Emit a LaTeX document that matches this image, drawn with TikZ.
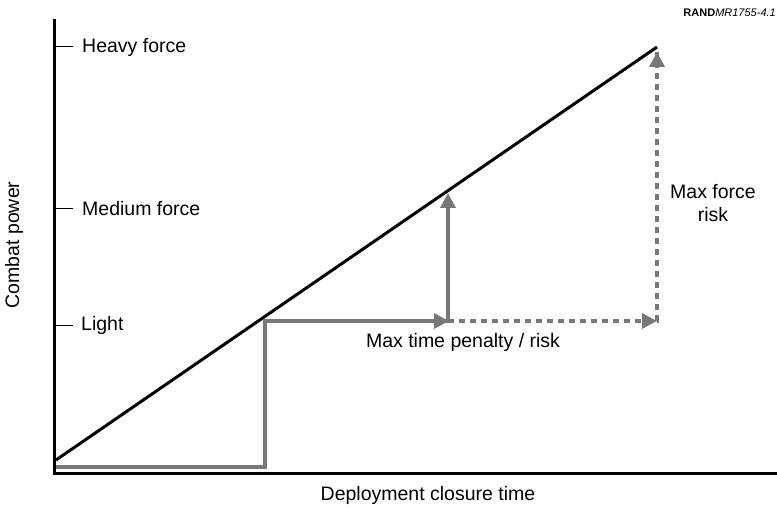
\documentclass[tikz,border=0pt]{standalone}
\usepackage{fontspec}
\setmainfont{Liberation Sans}
\usetikzlibrary{arrows.meta}
\definecolor{riskgray}{RGB}{120,120,120}
\tikzset{
  axisline/.style={line width=3pt},
  tickline/.style={line width=1pt},
  stepline/.style={draw=riskgray, line width=3.5pt},
  steparrow/.style={stepline, -{Triangle[length=15pt,width=15pt]}},
  dotline/.style={dash pattern=on 6pt off 5pt},
  lbl/.style={font=\fontsize{19.5}{23}\selectfont, inner sep=0pt},
}
\begin{document}
\begin{tikzpicture}[x=1pt,y=-1pt]
\useasboundingbox (0,0) rectangle (777,508);

% axes
\coordinate (ytop) at (54,19);
\coordinate (orig) at (54,473);
\coordinate (xend) at (777,473);
\draw[axisline] (ytop) -- (orig) -- (xend);

% ticks and levels
\coordinate (h0) at (54,47);  \coordinate (h1) at (73,47);
\coordinate (m0) at (54,209); \coordinate (m1) at (73,209);
\coordinate (l0) at (54,325); \coordinate (l1) at (73,325);
\draw[tickline] (h0) -- (h1);
\draw[tickline] (m0) -- (m1);
\draw[tickline] (l0) -- (l1);
\node[lbl, anchor=west] (heavy) at (82,47) {Heavy force};
\node[lbl, anchor=west] (medium) at (82,209) {Medium force};
\node[lbl, anchor=west] (light) at (81,325) {Light};

\node[lbl, rotate=90] (ylab) at (14,245) {Combat power};
\node[lbl] (xlab) at (428,495) {Deployment closure time};
\node[font=\fontsize{11}{13}\selectfont, inner sep=0pt, anchor=east] (tag) at (776,13) {\textbf{RAND}\textit{MR1755-4.1}};

% closure line
\coordinate (c0) at (56,460);
\coordinate (c1) at (657,47);
\draw[axisline] (c0) -- (c1);

% step path
\coordinate (s0) at (56,467);
\coordinate (s1) at (265,467);
\coordinate (s2) at (265,321);
\coordinate (s3) at (448,321);
\coordinate (s4) at (448,193);
\coordinate (s5) at (657,321);
\coordinate (s6) at (657,52);
\draw[stepline] (s0) -- (s1) -- (s2) -- (s3);
\draw[steparrow, shorten >=-1pt] (s2) -- (s3);
\draw[steparrow] (s3) -- (s4);
\draw[stepline, dotline] (s3) -- (s5) -- (s6);
\draw[steparrow, dotline] (s3) -- (s5);
\draw[steparrow, dotline] (s5) -- (s6);

\node[lbl] (pen) at (463,342) {Max time penalty / risk};
\node[lbl, align=center] (frisk) at (713,203) {Max force\\risk};
\end{tikzpicture}
\end{document}
